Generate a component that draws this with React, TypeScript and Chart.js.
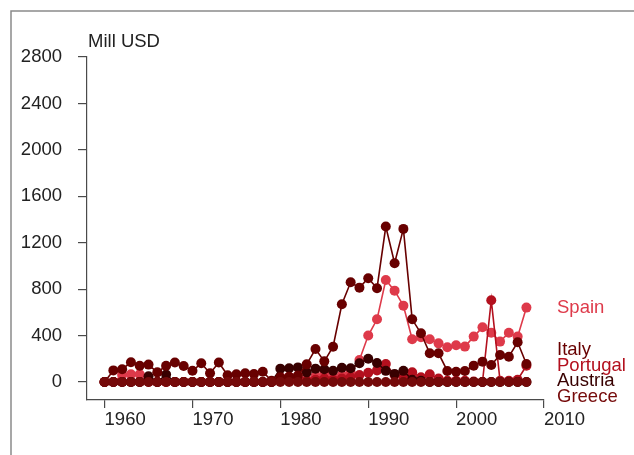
import { useEffect, useRef } from "react";
import { Chart, registerables } from "chart.js";

Chart.register(...registerables);

const years = [
  1960, 1961, 1962, 1963, 1964, 1965, 1966, 1967, 1968, 1969,
  1970, 1971, 1972, 1973, 1974, 1975, 1976, 1977, 1978, 1979,
  1980, 1981, 1982, 1983, 1984, 1985, 1986, 1987, 1988, 1989,
  1990, 1991, 1992, 1993, 1994, 1995, 1996, 1997, 1998, 1999,
  2000, 2001, 2002, 2003, 2004, 2005, 2006, 2007, 2008,
];

const spain = [
  0, 0, 60, 66, 66, 20, 0, 0, 0, 0,
  0, 0, 0, 0, 0, 0, 0, 0, 0, 0,
  40, 45, 30, 20, 50, 80, 40, 60, 80, 190,
  400, 540, 879, 787, 658, 368, 385, 368, 333, 300,
  316, 305, 391, 471, 425, 348, 425, 391, 641,
];

const italy = [
  0, 100, 110, 170, 140, 150, 83, 140, 168, 138,
  97, 161, 75, 168, 58, 67, 75, 68, 89, 11,
  40, 45, 55, 152, 284, 178, 304, 670, 859, 813,
  894, 808, 1339, 1023, 1319, 540, 420, 247, 247, 95,
  89, 95, 141, 175, 147, 233, 218, 342, 155,
];

const portugal = [
  0, 0, 0, 0, 0, 0, 0, 0, 0, 0,
  0, 0, 0, 0, 0, 0, 0, 0, 0, 0,
  10, 20, 20, 10, 20, 30, 20, 30, 40, 60,
  80, 100, 155, 60, 40, 83, 40, 66, 30, 10,
  10, 10, 5, 0, 705, 10, 10, 20, 140,
];

const austria = [
  0, 0, 0, 0, 0, 50, 0, 65, 0, 0,
  0, 0, 0, 0, 0, 0, 0, 0, 0, 0,
  115, 118, 126, 83, 115, 110, 97, 123, 118, 161,
  200, 164, 96, 70, 96, 20, 10, 0, 0, 0,
  0, 0, 0, 0, 0, 0, 0, 0, 0,
];

const greece = [
  0, 0, 0, 0, 0, 0, 0, 0, 0, 0,
  0, 0, 0, 0, 0, 0, 0, 0, 0, 0,
  0, 0, 0, 0, 0, 0, 0, 0, 0, 0,
  0, 0, 0, 0, 0, 0, 0, 0, 0, 0,
  0, 0, 0, 0, 0, 0, 0, 0, 0,
];

const seriesNames = ["Spain", "Italy", "Portugal", "Austria", "Greece"];
const seriesValues = [spain, italy, portugal, austria, greece];
const seriesColors = ["#de3a4a", "#680000", "#b3101e", "#380000", "#750a0a"];
const seriesOrder = [4, 1, 3, 2, 0];

const xTicks = [1960, 1970, 1980, 1990, 2000, 2010];
const yTicks = [0, 400, 800, 1200, 1600, 2000, 2400, 2800];
const yUnit = "Mill USD";

const FONT = "'Liberation Sans', Arial, Helvetica, sans-serif";
const FS = 18.5;

export default function App() {
  const ref = useRef<HTMLCanvasElement>(null);

  useEffect(() => {
    const canvas = ref.current;
    if (!canvas) return;

    const framePlugin = {
      id: "frame",
      beforeDraw(chart: any) {
        const c = chart.ctx;
        c.save();
        c.strokeStyle = "#8a8a8a";
        c.lineWidth = 1.5;
        c.beginPath();
        c.moveTo(11, chart.height);
        c.lineTo(11, 11);
        c.lineTo(chart.width, 11);
        c.stroke();
        c.restore();
      },
    };

    const textPlugin = {
      id: "texts",
      afterDraw(chart: any) {
        const c = chart.ctx;
        const area = chart.chartArea;
        const ys = chart.scales.y;
        c.save();
        c.font = `${FS}px ${FONT}`;
        c.textBaseline = "middle";
        c.textAlign = "left";
        c.fillStyle = "#222";
        c.fillText(yUnit, area.left + 1, 42);

        // end labels with simple 1D repel
        const gap = 15.5;
        const items = seriesNames.map((name, i) => ({
          name,
          color: seriesColors[i],
          idx: i,
          want: ys.getPixelForValue(seriesValues[i][seriesValues[i].length - 1]),
        }));
        items.sort((a, b) => a.want - b.want || a.idx - b.idx);
        let groups = items.map((it) => ({ members: [it], top: it.want }));
        let changed = true;
        while (changed) {
          changed = false;
          for (let g = 0; g < groups.length - 1; g++) {
            const a = groups[g];
            const b = groups[g + 1];
            const aBottom = a.top + (a.members.length - 1) * gap;
            if (b.top < aBottom + gap) {
              const members = a.members.concat(b.members);
              const mean = members.reduce((s, m) => s + m.want, 0) / members.length;
              const top = mean - ((members.length - 1) * gap) / 2;
              groups.splice(g, 2, { members, top });
              changed = true;
              break;
            }
          }
        }
        const x = area.right + 13;
        groups.forEach((g) => {
          g.members.forEach((m, k) => {
            c.fillStyle = m.color;
            c.fillText(m.name, x, g.top + k * gap);
          });
        });
        c.restore();
      },
    };

    const axisColor = "#4a4a4a";

    const chart = new Chart(canvas, {
      type: "line",
      data: {
        datasets: seriesNames.map((name, i) => ({
          label: name,
          data: years.map((yr, k) => ({ x: yr, y: seriesValues[i][k] })),
          borderColor: seriesColors[i],
          backgroundColor: seriesColors[i],
          pointBackgroundColor: seriesColors[i],
          pointBorderWidth: 0,
          pointRadius: 5,
          borderWidth: 1.6,
          tension: 0,
          order: seriesOrder[i],
        })),
      },
      options: {
        responsive: false,
        animation: false,
        layout: { padding: { top: 57, right: 90, bottom: 0, left: 0 } },
        plugins: { legend: { display: false }, tooltip: { enabled: false } },
        scales: {
          x: {
            type: "linear",
            min: 1958,
            max: 2010,
            afterBuildTicks: (s: any) => {
              s.ticks = xTicks.map((v) => ({ value: v }));
            },
            afterFit: (s: any) => {
              s.height = 55;
            },
            grid: {
              drawOnChartArea: false,
              drawTicks: true,
              tickLength: 8,
              color: axisColor,
              lineWidth: 1.2,
            },
            border: { display: true, color: axisColor, width: 1.2 },
            ticks: {
              align: "start",
              padding: 1,
              color: "#222",
              font: { family: FONT, size: FS },
              maxRotation: 0,
              autoSkip: false,
              callback: (v: any) => String(v),
            },
          },
          y: {
            type: "linear",
            min: -155,
            max: 2800,
            afterBuildTicks: (s: any) => {
              s.ticks = yTicks.map((v) => ({ value: v }));
            },
            afterFit: (s: any) => {
              s.width = 87;
            },
            grid: {
              drawOnChartArea: false,
              drawTicks: true,
              tickLength: 9,
              color: axisColor,
              lineWidth: 1.2,
            },
            border: { display: true, color: axisColor, width: 1.2 },
            ticks: {
              padding: 16,
              color: "#222",
              font: { family: FONT, size: FS },
              autoSkip: false,
              callback: (v: any) => String(v),
            },
          },
        },
      },
      plugins: [framePlugin, textPlugin],
    } as any);

    return () => chart.destroy();
  }, []);

  return (
    <canvas
      ref={ref}
      width={634}
      height={455}
      style={{ position: "fixed", left: 0, top: 0, width: 634, height: 455 }}
    />
  );
}
